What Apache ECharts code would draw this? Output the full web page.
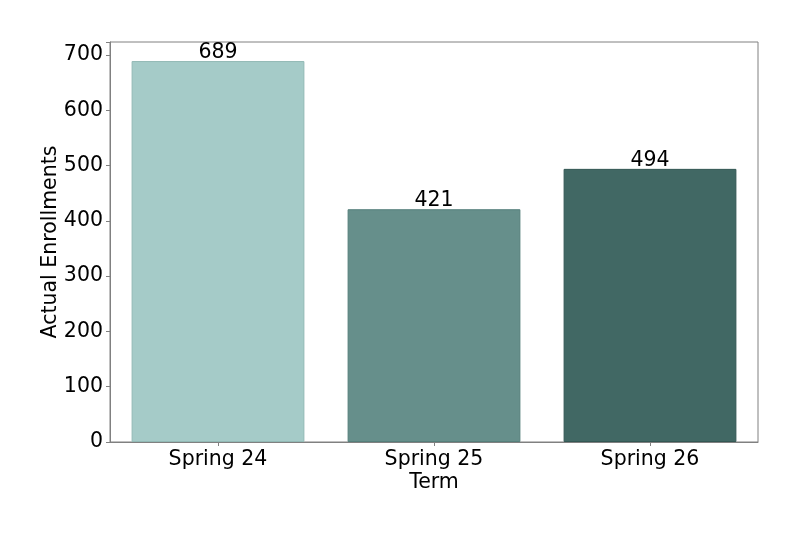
<!DOCTYPE html>
<html><head><meta charset="utf-8">
<script src="https://cdn.jsdelivr.net/npm/echarts@6/dist/echarts.min.js"></script>
<style>html,body{margin:0;padding:0;background:#fff}#c{width:800px;height:533px}</style>
</head><body><div id="c"></div>
<script>
const categories = ["Spring 24", "Spring 25", "Spring 26"];
const enrollments = [689, 421, 494];
const barColors = ["#a5cbc8", "#668f8b", "#416864"];
const edgeColors = ["#92b9b5", "#557f7b", "#335854"];
const yTicks = [0, 100, 200, 300, 400, 500, 600, 700];

const chart = echarts.init(document.getElementById('c'), null, {renderer: 'canvas'});
const font = 'DejaVu Sans';
chart.setOption({
  animation: false,
  backgroundColor: '#fff',
  grid: {left: 110, right: 42, top: 42, bottom: 91, show: true, borderColor: '#808080', borderWidth: 1, backgroundColor: 'transparent'},
  xAxis: {
    type: 'category', data: categories,
    name: 'Term', nameLocation: 'middle', nameGap: 30, nameMoveOverlap: false,
    nameTextStyle: {fontFamily: font, fontSize: 20.5, color: '#000'},
    axisLine: {show: true, lineStyle: {color: '#808080'}},
    axisTick: {show: true, alignWithLabel: true, length: 4, lineStyle: {color: '#808080'}},
    axisLabel: {fontFamily: font, fontSize: 20.5, color: '#000', margin: 7}
  },
  yAxis: {
    type: 'value', min: 0, max: 723.45, interval: 100,
    name: 'Actual Enrollments', nameLocation: 'middle', nameGap: 49, nameMoveOverlap: false,
    nameTextStyle: {fontFamily: font, fontSize: 20.5, color: '#000'},
    axisLine: {show: true, lineStyle: {color: '#808080'}},
    axisTick: {show: true, length: 4, lineStyle: {color: '#808080'}},
    axisLabel: {fontFamily: font, fontSize: 20.5, color: '#000', margin: 7,
      formatter: v => yTicks.includes(v) ? String(v) : ''},
    splitLine: {show: false}
  },
  series: [{
    type: 'bar', barCategoryGap: '20%',
    data: enrollments.map((v, i) => ({value: v, itemStyle: {color: barColors[i], borderColor: edgeColors[i], borderWidth: 1}})),
    label: {show: true, position: 'top', distance: -2, fontFamily: font, fontSize: 20.5, color: '#000'}
  }]
});
</script></body></html>
